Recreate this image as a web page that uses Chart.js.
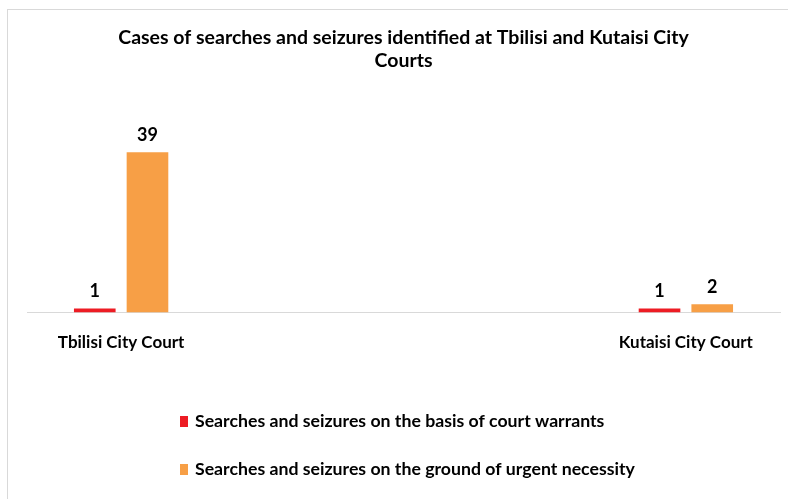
<!DOCTYPE html>
<html>
<head>
<meta charset="utf-8">
<script src="https://cdn.jsdelivr.net/npm/chart.js@4.4.1/dist/chart.umd.min.js"></script>
<style>
  html, body { margin: 0; padding: 0; background: #fff; overflow: hidden; }
  #frame { position: absolute; left: 7px; top: 9px; width: 800px; height: 500px; border: 1px solid #d9d9d9; }
  #courtChart { position: absolute; left: 0; top: 0; }
</style>
</head>
<body>
<div id="frame"></div>
<canvas id="courtChart" width="788" height="499"></canvas>
<script>
// chart data
const categories = ['Tbilisi City Court', '', '', 'Kutaisi City Court'];
const warrantCases = [1, null, null, 1];
const urgentCases = [39, null, null, 2];
const seriesLabels = [
  'Searches and seizures on the basis of court warrants',
  'Searches and seizures on the ground of urgent necessity'
];
const titleLines = ['Cases of searches and seizures identified at Tbilisi and Kutaisi City', 'Courts'];

const FONT = 'Lato, "Open Sans", sans-serif';

// values above bars
const valueLabels = {
  id: 'valueLabels',
  afterDatasetsDraw(chart) {
    const ctx = chart.ctx;
    ctx.save();
    ctx.font = 'bold 18px ' + FONT;
    ctx.fillStyle = '#000';
    ctx.textAlign = 'center';
    ctx.textBaseline = 'bottom';
    chart.data.datasets.forEach((ds, i) => {
      const meta = chart.getDatasetMeta(i);
      meta.data.forEach((bar, j) => {
        const v = ds.data[j];
        if (v === null || v === undefined) return;
        ctx.fillText(String(v), bar.x, bar.y - 8);
      });
    });
    ctx.restore();
  }
};

// vertical legend, left aligned
const stackedLegend = {
  id: 'stackedLegend',
  afterDraw(chart, args, opts) {
    const ctx = chart.ctx;
    ctx.save();
    ctx.font = 'bold 17.7px ' + FONT;
    ctx.textBaseline = 'middle';
    ctx.textAlign = 'left';
    chart.data.datasets.forEach((ds, i) => {
      const y = opts.top + i * opts.gap;
      ctx.fillStyle = ds.backgroundColor;
      ctx.fillRect(opts.left, y - 5, 8, 11);
      ctx.fillStyle = '#000';
      ctx.fillText(ds.label, opts.left + 15, y);
    });
    ctx.restore();
  }
};

const ctx = document.getElementById('courtChart');
new Chart(ctx, {
  type: 'bar',
  data: {
    labels: categories,
    datasets: [{
      label: seriesLabels[0],
      data: warrantCases,
      backgroundColor: '#ed1c24',
      barPercentage: 0.79,
      categoryPercentage: 0.56
    }, {
      label: seriesLabels[1],
      data: urgentCases,
      backgroundColor: '#f79f46',
      barPercentage: 0.79,
      categoryPercentage: 0.56
    }]
  },
  options: {
    responsive: false,
    animation: false,
    layout: {
      padding: { left: 27, right: 8, top: 0, bottom: 126 }
    },
    plugins: {
      legend: { display: false },
      tooltip: { enabled: false },
      title: {
        display: true,
        text: titleLines,
        color: '#000',
        font: { family: FONT, size: 19.5, weight: 'bold', lineHeight: 1.18 },
        padding: { top: 26.5, bottom: 75.5 }
      },
      stackedLegend: { left: 180, top: 421, gap: 48 }
    },
    scales: {
      x: {
        grid: { display: false, drawTicks: false },
        border: { display: true, color: '#d9d9d9', width: 1 },
        ticks: {
          autoSkip: false,
          maxRotation: 0,
          padding: 20,
          color: '#000',
          font: { family: FONT, size: 17, weight: 'bold' }
        }
      },
      y: {
        display: false,
        min: 0,
        max: 40
      }
    }
  },
  plugins: [valueLabels, stackedLegend]
});
</script>
</body>
</html>
